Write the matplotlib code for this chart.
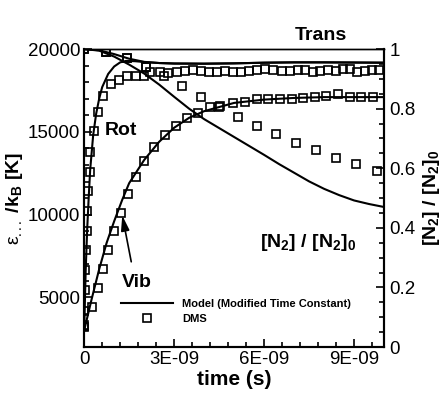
import numpy as np
import matplotlib
matplotlib.use("Agg")
import matplotlib.pyplot as plt
from matplotlib.ticker import MultipleLocator

plt.rcParams["font.family"] = ["Liberation Sans", "DejaVu Sans"]
plt.rcParams["mathtext.fontset"] = "custom"
plt.rcParams["mathtext.rm"] = "Liberation Sans"
plt.rcParams["mathtext.it"] = "Liberation Sans"
plt.rcParams["mathtext.bf"] = "Liberation Sans:bold"

# --- model curves (time in ns, energy in K) ---
t_trans_model = [0.0, 0.5, 1.0, 1.5, 2.0, 2.5, 3.0, 4.0, 5.0, 6.0, 7.0, 8.0, 10.0]
trans_model = [20000, 19930, 19700, 19420, 19230, 19160, 19130, 19120, 19140, 19180, 19200, 19200, 19180]

t_rot_model = [0.0, 0.05, 0.1, 0.15, 0.2, 0.3, 0.4, 0.5, 0.6, 0.8, 1.0, 1.2, 1.4, 1.7, 2.0, 2.5, 3.0, 4.0,
               5.0, 6.0, 7.0, 8.0, 10.0]
rot_model = [3000, 6600, 9100, 11000, 12700, 14800, 16100, 17000, 17700, 18500, 18950, 19200, 19290, 19270,
             19220, 19160, 19130, 19120, 19140, 19180, 19200, 19200, 19180]

t_vib_model = [0.0, 0.25, 0.5, 0.75, 1.0, 1.27, 1.5, 2.0, 2.5, 3.0, 3.5, 4.0, 5.0, 6.0, 7.0, 8.0, 10.0]
vib_model = [3000, 4900, 6700, 8300, 9600, 10900, 11900, 13300, 14400, 15250, 15850, 16250, 16750, 16950,
             17050, 17100, 17100]

t_n2_model = [0.0, 0.5, 1.0, 1.5, 2.0, 2.5, 3.0, 3.5, 4.0, 5.0, 6.0, 6.5, 7.0, 7.5, 8.0, 8.5, 9.0, 9.5, 10.0]
n2_model = [1.0, 0.995, 0.975, 0.948, 0.918, 0.881, 0.84, 0.80, 0.765, 0.705, 0.645, 0.614, 0.585, 0.556,
            0.531, 0.51, 0.492, 0.48, 0.47]

# --- DMS data ---
t_trans_dms = [0.0, 0.73, 1.43, 2.07, 2.53, 3.1, 3.63, 4.17, 4.7, 5.23, 5.77, 6.3, 6.87, 7.37, 7.87, 8.4,
               8.87, 9.37, 9.83]
trans_dms = [20000, 19820, 19450, 18950, 18610, 18590, 18730, 18590, 18690, 18630, 18730, 18730, 18670,
             18730, 18670, 18670, 18790, 18670, 18730]

t_rot_dms = [0.0, 0.01, 0.03, 0.04, 0.06, 0.09, 0.1, 0.13, 0.19, 0.21, 0.33, 0.47, 0.63, 0.9, 1.17, 1.43,
             1.73, 2.0, 2.2, 2.8, 3.37, 3.9, 4.43, 4.97, 5.5, 6.03, 6.6, 7.13, 7.63, 8.13, 8.63, 9.1, 9.6]
rot_dms = [3330, 4175, 5440, 6650, 7860, 9010, 10210, 11420, 12570, 13780, 15050, 16200, 17160, 17890,
           18130, 18370, 18370, 18370, 18590, 18570, 18670, 18690, 18630, 18630, 18670, 18790, 18670,
           18730, 18630, 18730, 18790, 18630, 18730]

t_vib_dms = [0.0, 0.27, 0.47, 0.63, 0.8, 1.0, 1.23, 1.47, 1.73, 2.0, 2.33, 2.7, 3.07, 3.43, 3.8, 4.2, 4.53,
             4.97, 5.37, 5.77, 6.13, 6.53, 6.93, 7.3, 7.7, 8.07, 8.47, 8.87, 9.23, 9.63]
vib_dms = [3210, 4420, 5560, 6710, 7860, 9010, 10100, 11240, 12270, 13240, 14080, 14810, 15350, 15830,
           16130, 16500, 16560, 16740, 16800, 16980, 16980, 16980, 16980, 17040, 17100, 17160, 17280,
           17100, 17100, 17100]

t_n2_dms = [0.0, 0.73, 1.43, 2.07, 2.67, 3.27, 3.9, 4.5, 5.13, 5.77, 6.4, 7.07, 7.73, 8.4, 9.07, 9.77]
n2_dms = [1.0, 0.99, 0.97, 0.94, 0.91, 0.876, 0.839, 0.806, 0.772, 0.742, 0.715, 0.685, 0.661, 0.634,
          0.614, 0.59]

xtick_vals = [0.0, 3e-9, 6e-9, 9e-9]
xtick_labels = ["0", "3E-09", "6E-09", "9E-09"]


def ns(t):
    return np.asarray(t) * 1e-9


fig = plt.figure(figsize=(4.43, 3.93), dpi=100)
ax = fig.add_axes([0.19, 0.117, 0.677, 0.758])
ax2 = ax.twinx()

lw = 1.5
sq = dict(ls="none", marker="s", ms=5.5, mfc="none", mec="k", mew=1.2)

line_model, = ax.plot(ns(t_trans_model), trans_model, color="k", lw=lw,
                      label="Model (Modified Time Constant)")
ax.plot(ns(t_rot_model), rot_model, color="k", lw=lw)
ax.plot(ns(t_vib_model), vib_model, color="k", lw=lw)
ax2.plot(ns(t_n2_model), n2_model, color="k", lw=lw)

dms_marker, = ax.plot(ns(t_trans_dms), trans_dms, label="DMS", **sq)
ax.plot(ns(t_rot_dms), rot_dms, **sq)
ax.plot(ns(t_vib_dms), vib_dms, **sq)
ax2.plot(ns(t_n2_dms), n2_dms, **sq)

ax.set_xlim(0, 1e-8)
ax.set_ylim(2000, 20000)
ax2.set_ylim(0, 1)

ax.set_xticks(xtick_vals)
ax.set_xticklabels(xtick_labels)
ax.xaxis.set_minor_locator(MultipleLocator(0.6e-9))
ax.yaxis.set_major_locator(MultipleLocator(5000))
ax.yaxis.set_minor_locator(MultipleLocator(1000))
ax2.yaxis.set_major_locator(MultipleLocator(0.2))
ax2.yaxis.set_minor_locator(MultipleLocator(0.05))
ax2.set_yticks([0, 0.2, 0.4, 0.6, 0.8, 1.0])
ax2.set_yticklabels(["0", "0.2", "0.4", "0.6", "0.8", "1"])

for a in (ax, ax2):
    a.tick_params(which="both", direction="in", labelsize=13.5, width=1.2)
    a.tick_params(which="major", length=6)
    a.tick_params(which="minor", length=3.5)
    for s in a.spines.values():
        s.set_linewidth(1.5)
    a.spines["top"].set_linewidth(1.0)
ax.tick_params(top=False, right=False)
ax.tick_params(axis="both", pad=3)
ax2.tick_params(pad=4)

ax.set_xlabel("time (s)", fontsize=15, fontweight="bold", labelpad=1)
ax.set_ylabel(r"$\varepsilon_{...}$ /$\mathbf{k_B}$ [K]", fontsize=14, fontweight="bold", labelpad=2)
ax2.set_ylabel(r"[N$_\mathbf{2}$] / [N$_\mathbf{2}$]$_\mathbf{0}$", fontsize=14, fontweight="bold",
               labelpad=4)

ax.text(1.23e-9, 15100, "Rot", fontsize=14, fontweight="bold", ha="center", va="center")
ax.text(1.77e-9, 5900, "Vib", fontsize=14, fontweight="bold", ha="center", va="center")
ax.text(7.9e-9, 20800, "Trans", fontsize=14, fontweight="bold", ha="center", va="center")
ax.text(7.47e-9, 8300, r"[N$_\mathbf{2}$] / [N$_\mathbf{2}$]$_\mathbf{0}$", fontsize=14,
        fontweight="bold", ha="center", va="center")
ax.annotate("", xy=(1.27e-9, 9950), xytext=(1.57e-9, 7150),
            arrowprops=dict(arrowstyle="-|>,head_length=0.9,head_width=0.25", color="k", lw=1.2,
                            shrinkA=0, shrinkB=0))

ax.legend(handles=[line_model, dms_marker], loc="upper left", bbox_to_anchor=(0.108, 0.175),
          frameon=False, handlelength=4.7, handletextpad=0.8,
          prop={"weight": "bold", "size": 8}, borderaxespad=0, labelspacing=0.45)

fig.savefig("out.png", dpi=100)
